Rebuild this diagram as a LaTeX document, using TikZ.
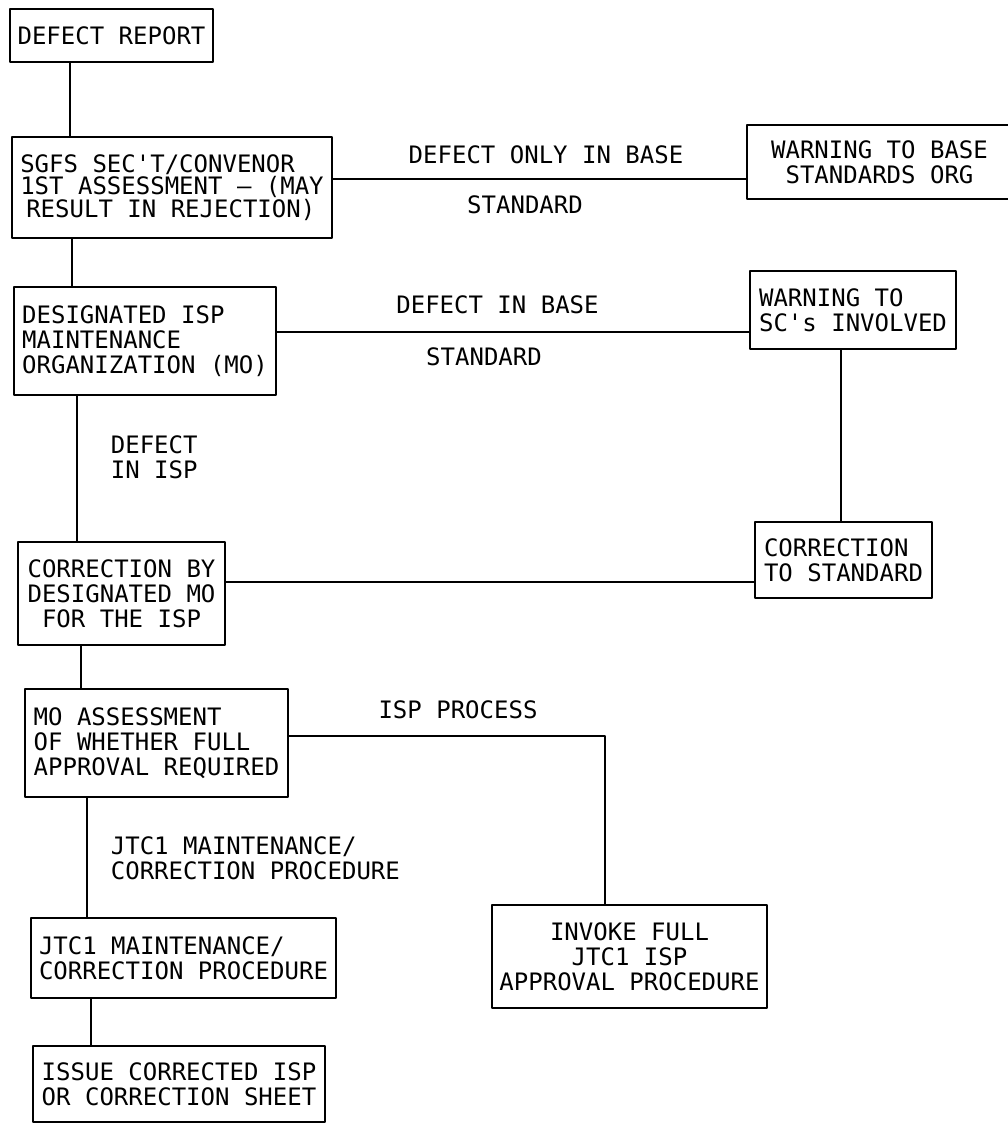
\documentclass[tikz,border=0pt]{standalone}
\usepackage{fontspec}
\newfontfamily\plotterfont{DejaVu Sans Mono}
\begin{document}
\begin{tikzpicture}[x=1pt,y=-1pt,line width=1.8pt,line join=round,line cap=round,
	font=\plotterfont\fontsize{24}{25}\selectfont,
	box/.style={draw,inner sep=0pt,align=left},
	lbl/.style={inner sep=0pt,anchor=base}]
	\useasboundingbox (0,0) rectangle (1007,1124);
	\node[box,minimum width=203pt,minimum height=53pt] (report) at (111.5,35.5) {DEFECT REPORT};
	\node[box,minimum width=320pt,minimum height=101pt,font=\plotterfont\fontsize{24}{22.5}\selectfont] (sgfs) at (172,187.5) {SGFS SEC'T/CONVENOR\\1ST ASSESSMENT – (MAY\\\hspace*{6pt}RESULT IN REJECTION)};
	\node[box,align=center,minimum width=265pt,minimum height=74pt] (warnbase) at (879.5,162) {WARNING TO BASE\\STANDARDS ORG};
	\node[box,minimum width=262pt,minimum height=108pt] (design) at (145,341) {DESIGNATED ISP\\MAINTENANCE\\ORGANIZATION (MO)};
	\node[box,minimum width=206pt,minimum height=78pt] (warnsc) at (853,310) {WARNING TO\\SC's INVOLVED};
	\node[box,align=center,minimum width=207pt,minimum height=103pt] (corrbymo) at (121.5,593.5) {CORRECTION BY\\DESIGNATED MO\\FOR THE ISP};
	\node[box,minimum width=177pt,minimum height=76pt] (corrstd) at (843.5,560) {CORRECTION\\TO STANDARD};
	\node[box,minimum width=263pt,minimum height=108pt] (moassess) at (156.5,743) {MO ASSESSMENT\\OF WHETHER FULL\\APPROVAL REQUIRED};
	\node[box,align=center,minimum width=275pt,minimum height=103pt] (invoke) at (629.5,956.5) {INVOKE FULL\\JTC1 ISP\\APPROVAL PROCEDURE};
	\node[box,minimum width=305pt,minimum height=80pt] (jtcbox) at (183.5,958) {JTC1 MAINTENANCE/\\CORRECTION PROCEDURE};
	\node[box,align=center,minimum width=292pt,minimum height=76pt] (issue) at (179,1084) {ISSUE CORRECTED ISP\\OR CORRECTION SHEET};
	\node[lbl] (onlybase) at (546,163) {DEFECT ONLY IN BASE};
	\node[lbl] (onlystd) at (525,213) {STANDARD};
	\node[lbl] (inbase) at (497.5,313) {DEFECT IN BASE};
	\node[lbl] (instd) at (484,365) {STANDARD};
	\node[lbl,anchor=north west,align=left] (inisp) at (110,435) {DEFECT\\IN ISP};
	\node[lbl] (ispproc) at (458,718) {ISP PROCESS};
	\node[lbl,anchor=north west,align=left] (jtcproc) at (110,836) {JTC1 MAINTENANCE/\\CORRECTION PROCEDURE};
	\coordinate (v1) at (70,0);
	\coordinate (v2) at (72,0);
	\coordinate (v3) at (77,0);
	\coordinate (v4) at (81,0);
	\coordinate (v5) at (87,0);
	\coordinate (v6) at (91,0);
	\coordinate (v7) at (841,0);
	\coordinate (v8) at (605,0);
	\coordinate (h1) at (0,179);
	\coordinate (h2) at (0,332);
	\coordinate (h3) at (0,582);
	\coordinate (h4) at (0,736);
	\draw (report.south -| v1)--(sgfs.north -| v1);
	\draw (sgfs.south -| v2)--(design.north -| v2);
	\draw (design.south -| v3)--(corrbymo.north -| v3);
	\draw (corrbymo.south -| v4)--(moassess.north -| v4);
	\draw (moassess.south -| v5)--(jtcbox.north -| v5);
	\draw (jtcbox.south -| v6)--(issue.north -| v6);
	\draw (sgfs.east |- h1)--(warnbase.west |- h1);
	\draw (design.east |- h2)--(warnsc.west |- h2);
	\draw (warnsc.south -| v7)--(corrstd.north -| v7);
	\draw (corrbymo.east |- h3)--(corrstd.west |- h3);
	\draw (moassess.east |- h4) -| (invoke.north -| v8);
\end{tikzpicture}
\end{document}
